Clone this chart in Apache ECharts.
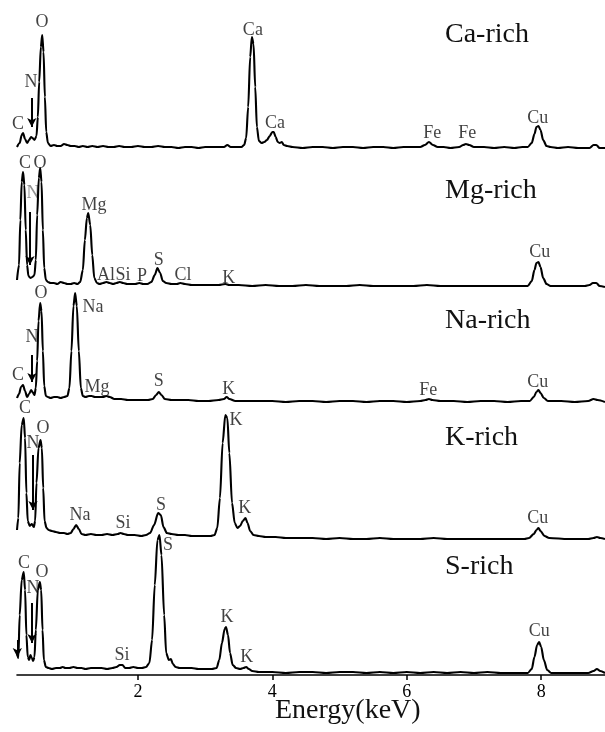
<!DOCTYPE html>
<html>
<head>
<meta charset="utf-8">
<script src="https://cdn.jsdelivr.net/npm/echarts@6/dist/echarts.min.js"></script>
<style>html,body{margin:0;padding:0;background:#fff}#c{width:605px;height:732px}</style>
</head>
<body>
<div id="c"></div>
<script>
// ---------- DATA (energy keV, intensity a.u.) ----------
const panelNames = ['Ca-rich', 'Mg-rich', 'Na-rich', 'K-rich', 'S-rich'];
const tickLabels = ['2', '4', '6', '8'];
const axisTitle = 'Energy(keV)';

const caRich = [[0.20,5],[0.24,9],[0.27,17],[0.29,19],[0.32,13],[0.35,9],[0.38,12],[0.41,15],[0.43,14],[0.46,12],[0.49,16],[0.51,35],[0.53,70],[0.555,105],[0.575,117],[0.595,100],[0.615,55],[0.635,20],[0.66,9],[0.70,6],[0.75,7],[0.80,6],[0.85,6],[0.90,8],[0.95,7],[1.00,6],[1.06,6],[1.12,5],[1.18,6],[1.25,5],[1.32,6],[1.40,5],[1.48,6],[1.56,5],[1.64,5],[1.72,6],[1.80,5],[1.90,5],[2.00,6],[2.10,5],[2.20,5],[2.30,6],[2.40,5],[2.50,5],[2.60,4],[2.70,5],[2.80,5],[2.90,4],[3.00,5],[3.10,5],[3.20,5],[3.28,5],[3.33,7],[3.38,5],[3.46,5],[3.54,5],[3.58,7],[3.61,14],[3.64,45],[3.67,95],[3.695,115],[3.72,108],[3.745,65],[3.77,25],[3.80,11],[3.84,9],[3.88,10],[3.92,12],[3.96,16],[4.00,20],[4.02,20],[4.05,15],[4.08,10],[4.11,9],[4.14,10],[4.17,7],[4.22,6],[4.30,5],[4.45,4],[4.60,5],[4.75,5],[4.90,4],[5.05,5],[5.20,5],[5.35,4],[5.50,5],[5.65,5],[5.80,4],[5.95,5],[6.10,5],[6.20,5],[6.27,7],[6.33,10],[6.39,7],[6.46,5],[6.55,5],[6.65,4],[6.78,5],[6.84,7],[6.88,8],[6.93,7],[7.00,5],[7.15,5],[7.30,4],[7.45,5],[7.60,4],[7.72,5],[7.80,5],[7.86,9],[7.90,18],[7.93,25],[7.96,26],[7.99,22],[8.03,12],[8.08,6],[8.14,5],[8.25,4],[8.40,5],[8.55,4],[8.65,4],[8.72,4],[8.78,7],[8.82,7],[8.87,4],[8.95,4]];

const mgRich = [[0.20,10],[0.23,25],[0.25,70],[0.27,108],[0.29,118],[0.31,105],[0.33,60],[0.35,25],[0.37,14],[0.40,12],[0.43,13],[0.46,15],[0.48,30],[0.50,75],[0.525,112],[0.545,122],[0.565,108],[0.585,60],[0.605,22],[0.63,10],[0.66,8],[0.70,7],[0.75,7],[0.80,6],[0.85,8],[0.90,7],[0.95,6],[1.00,6],[1.05,7],[1.10,6],[1.14,8],[1.18,20],[1.21,50],[1.24,72],[1.26,77],[1.29,65],[1.32,35],[1.35,12],[1.39,7],[1.43,6],[1.48,7],[1.53,8],[1.58,7],[1.63,6],[1.68,7],[1.73,8],[1.78,7],[1.84,6],[1.90,6],[1.96,6],[2.02,7],[2.08,6],[2.14,6],[2.20,8],[2.25,15],[2.29,22],[2.33,17],[2.37,9],[2.42,7],[2.50,6],[2.58,6],[2.63,7],[2.70,6],[2.80,5],[2.90,5],[3.00,5],[3.10,5],[3.20,5],[3.30,6],[3.36,5],[3.50,5],[3.70,4],[3.90,5],[4.10,4],[4.30,4],[4.50,5],[4.70,4],[4.90,4],[5.10,4],[5.30,5],[5.50,4],[5.70,4],[5.90,4],[6.10,4],[6.30,5],[6.50,4],[6.70,4],[6.90,4],[7.10,4],[7.30,4],[7.50,4],[7.65,4],[7.80,4],[7.86,9],[7.90,20],[7.93,27],[7.96,28],[7.99,23],[8.03,12],[8.08,6],[8.14,4],[8.30,4],[8.50,4],[8.65,4],[8.72,5],[8.77,7],[8.82,7],[8.87,4],[8.95,3]];

const naRich = [[0.20,8],[0.23,12],[0.26,19],[0.29,21],[0.32,15],[0.35,9],[0.38,12],[0.41,16],[0.43,14],[0.46,11],[0.48,18],[0.50,45],[0.52,85],[0.545,103],[0.565,95],[0.585,55],[0.605,20],[0.63,10],[0.66,9],[0.70,8],[0.75,9],[0.80,9],[0.85,8],[0.90,9],[0.95,10],[0.98,18],[1.01,55],[1.04,100],[1.065,113],[1.09,100],[1.12,55],[1.15,18],[1.18,10],[1.22,9],[1.27,10],[1.31,10],[1.36,9],[1.42,9],[1.48,9],[1.53,10],[1.58,9],[1.65,7],[1.75,7],[1.85,6],[1.95,6],[2.05,6],[2.15,6],[2.22,7],[2.27,11],[2.31,14],[2.35,11],[2.40,7],[2.50,6],[2.60,6],[2.75,6],[2.90,5],[3.05,5],[3.20,6],[3.28,7],[3.32,9],[3.36,7],[3.45,5],[3.60,5],[3.80,5],[4.00,5],[4.20,4],[4.40,5],[4.60,5],[4.80,4],[5.00,5],[5.20,5],[5.40,4],[5.60,5],[5.80,5],[6.00,4],[6.20,5],[6.28,6],[6.33,7],[6.38,6],[6.50,5],[6.70,5],[6.90,4],[7.10,5],[7.30,5],[7.50,4],[7.70,5],[7.83,5],[7.89,9],[7.93,14],[7.96,16],[7.99,13],[8.04,8],[8.10,5],[8.30,5],[8.50,4],[8.70,5],[8.78,7],[8.84,6],[8.95,4]];

const kRich = [[0.20,13],[0.22,25],[0.24,80],[0.27,118],[0.30,125],[0.32,105],[0.34,50],[0.36,22],[0.39,17],[0.42,19],[0.45,16],[0.47,22],[0.49,60],[0.52,95],[0.55,103],[0.57,95],[0.59,55],[0.61,22],[0.64,15],[0.67,13],[0.72,12],[0.78,11],[0.84,10],[0.90,10],[0.95,9],[1.00,10],[1.04,14],[1.08,18],[1.12,14],[1.16,9],[1.22,8],[1.30,9],[1.38,8],[1.46,8],[1.54,9],[1.62,8],[1.70,9],[1.74,10],[1.79,9],[1.85,8],[1.95,8],[2.05,7],[2.12,8],[2.18,10],[2.24,18],[2.30,30],[2.34,28],[2.38,16],[2.43,10],[2.50,9],[2.60,8],[2.70,8],[2.80,7],[2.90,7],[3.00,7],[3.08,7],[3.14,8],[3.18,15],[3.22,45],[3.26,100],[3.30,128],[3.33,125],[3.36,90],[3.40,40],[3.44,20],[3.48,15],[3.52,17],[3.56,22],[3.60,25],[3.63,20],[3.67,12],[3.72,8],[3.80,7],[3.90,6],[4.05,6],[4.20,5],[4.40,5],[4.60,5],[4.80,4],[5.00,5],[5.20,4],[5.40,4],[5.60,5],[5.80,4],[6.00,4],[6.20,4],[6.40,5],[6.60,4],[6.80,4],[7.00,4],[7.20,4],[7.40,4],[7.60,4],[7.75,4],[7.82,5],[7.89,9],[7.93,13],[7.96,15],[7.99,12],[8.05,7],[8.12,5],[8.40,4],[8.70,4],[8.78,5],[8.83,6],[8.88,5],[8.95,4]];

const sRich = [[0.20,22],[0.22,17],[0.24,60],[0.27,95],[0.30,103],[0.32,85],[0.34,40],[0.36,18],[0.38,15],[0.40,20],[0.42,17],[0.44,14],[0.46,18],[0.48,45],[0.51,85],[0.54,93],[0.56,85],[0.58,45],[0.60,15],[0.63,8],[0.67,7],[0.72,6],[0.78,7],[0.84,7],[0.88,8],[0.92,7],[0.98,7],[1.04,8],[1.10,7],[1.16,7],[1.22,6],[1.30,7],[1.38,7],[1.46,7],[1.54,6],[1.62,7],[1.68,8],[1.73,10],[1.77,10],[1.81,7],[1.87,7],[1.93,8],[2.00,7],[2.06,7],[2.12,8],[2.17,12],[2.21,35],[2.25,90],[2.29,135],[2.32,140],[2.35,120],[2.39,60],[2.42,22],[2.46,15],[2.49,16],[2.52,11],[2.56,8],[2.62,7],[2.70,7],[2.80,7],[2.90,6],[3.00,6],[3.10,6],[3.17,7],[3.21,15],[3.25,32],[3.29,46],[3.31,48],[3.34,40],[3.37,22],[3.41,10],[3.46,7],[3.52,6],[3.57,7],[3.61,8],[3.65,6],[3.70,4],[3.80,3],[4.00,3],[4.20,2],[4.40,3],[4.60,3],[4.80,2],[5.00,3],[5.20,3],[5.40,2],[5.60,3],[5.80,2],[6.00,3],[6.20,2],[6.40,3],[6.60,2],[6.80,3],[7.00,2],[7.20,3],[7.40,2],[7.60,2],[7.80,2],[7.86,6],[7.90,18],[7.94,30],[7.97,33],[8.00,28],[8.04,15],[8.09,5],[8.15,2],[8.40,2],[8.70,2],[8.78,4],[8.83,6],[8.88,4],[8.95,2]];

// element annotations: [energy, height, text]
const caLabels = [[0.215,28,'C'],[0.41,70,'N'],[0.572,130,'O'],[3.71,122,'Ca'],[4.04,29,'Ca'],[6.38,19,'Fe'],[6.90,19,'Fe'],[7.95,34,'Cu']];
const mgLabels = [[0.319,127,'C'],[0.542,127,'O'],[1.346,85,'Mg'],[1.525,15,'Al'],[1.777,15,'Si'],[2.06,14,'P'],[2.31,30,'S'],[2.67,15,'Cl'],[3.35,12,'K'],[7.98,38,'Cu']];
const naLabels = [[0.557,113,'O'],[1.331,99,'Na'],[0.423,69,'N'],[0.215,31,'C'],[1.39,19,'Mg'],[2.31,25,'S'],[3.35,17,'K'],[6.32,16,'Fe'],[7.95,24,'Cu']];
const kLabels = [[0.319,135,'C'],[0.587,115,'O'],[0.438,100,'N'],[1.137,28,'Na'],[1.777,20,'Si'],[2.343,38,'S'],[3.46,123,'K'],[3.59,35,'K'],[7.95,25,'Cu']];
const sLabels = [[0.304,112,'C'],[0.572,103,'O'],[0.438,87,'N'],[1.763,20,'Si'],[2.447,130,'S'],[3.325,58,'K'],[3.62,18,'K'],[7.97,44,'Cu']];
// faded "N" labels drawn behind peaks (Mg-rich)
const mgFaded = [[0.438,97,'N']];
// N arrows: [energy, from height, to height]
const caArrows = [[0.42,54,25]];
const mgArrows = [[0.393,78,25]];
const naArrows = [[0.423,51,24]];
const kArrows = [[0.438,88,33]];
const sArrows = [[0.423,72,32],[0.205,35,18]];

// ---------- LAYOUT ----------
const spectra = [caRich, mgRich, naRich, kRich, sRich];
const labels = [caLabels, mgLabels, naLabels, kLabels, sLabels];
const arrows = [caArrows, mgArrows, naArrows, kArrows, sArrows];
const gridBox = [[22,130],[160,130],[286,120],[408,135],[530,145]]; // top, height
const titleTops = [21, 177, 307, 424, 553];
const serif = 'Liberation Serif';

const grids = [], xAxes = [], yAxes = [], series = [];
gridBox.forEach((g, i) => {
  grids.push({left: 17, right: 0, top: g[0], height: g[1], containLabel: false});
  const last = i === gridBox.length - 1;
  xAxes.push({
    type: 'value', gridIndex: i, min: 0.2, max: 8.95, show: last,
    axisLine: {show: last, onZero: false, lineStyle: {color: '#000', width: 1.6}},
    axisTick: {show: last, length: 5, lineStyle: {color: '#000', width: 1.5},
      customValues: tickLabels.map(Number)},
    axisLabel: {show: last, color: '#000', fontFamily: serif, fontSize: 18, margin: 8,
      customValues: tickLabels.map(Number), formatter: v => tickLabels.includes(String(v)) ? String(v) : ''},
    splitLine: {show: false}
  });
  yAxes.push({type: 'value', gridIndex: i, min: 0, max: g[1], show: false, splitLine: {show: false}});
  series.push({
    type: 'line', xAxisIndex: i, yAxisIndex: i, data: spectra[i], showSymbol: false,
    smooth: 0.3, smoothMonotone: 'x', clip: false, silent: true,
    lineStyle: {color: '#000', width: 2.1}
  });
  series.push({
    type: 'scatter', xAxisIndex: i, yAxisIndex: i, symbolSize: 0, silent: true,
    data: labels[i].map(d => ({value: [d[0], d[1]], name: d[2]})),
    label: {show: true, position: 'inside', formatter: '{b}', color: '#111', fontFamily: serif, fontSize: 18},
    markLine: {
      silent: true, symbol: ['none', 'arrow'], symbolSize: [7, 9], animation: false,
      lineStyle: {color: '#000', width: 2, type: 'solid'}, label: {show: false},
      data: arrows[i].map(a => [{coord: [a[0], a[1]]}, {coord: [a[0], a[2]]}])
    },
    z: 3
  });
});
series.push({
  type: 'scatter', xAxisIndex: 1, yAxisIndex: 1, symbolSize: 0, silent: true, z: 1,
  data: mgFaded.map(d => ({value: [d[0], d[1]], name: d[2]})),
  label: {show: true, position: 'inside', formatter: '{b}', color: '#777', fontFamily: serif, fontSize: 18}
});

const titles = panelNames.map((t, i) => ({
  text: t, left: 445, top: titleTops[i], padding: 0,
  textStyle: {fontFamily: serif, fontSize: 28, fontWeight: 'normal', color: '#111'}
}));
titles.push({text: axisTitle, left: 275, top: 697, padding: 0,
  textStyle: {fontFamily: serif, fontSize: 28, fontWeight: 'normal', color: '#111'}});

const chart = echarts.init(document.getElementById('c'), null, {renderer: 'canvas'});
chart.setOption({
  backgroundColor: '#fff', animation: false,
  title: titles, grid: grids, xAxis: xAxes, yAxis: yAxes, series: series
});
</script>
</body>
</html>
